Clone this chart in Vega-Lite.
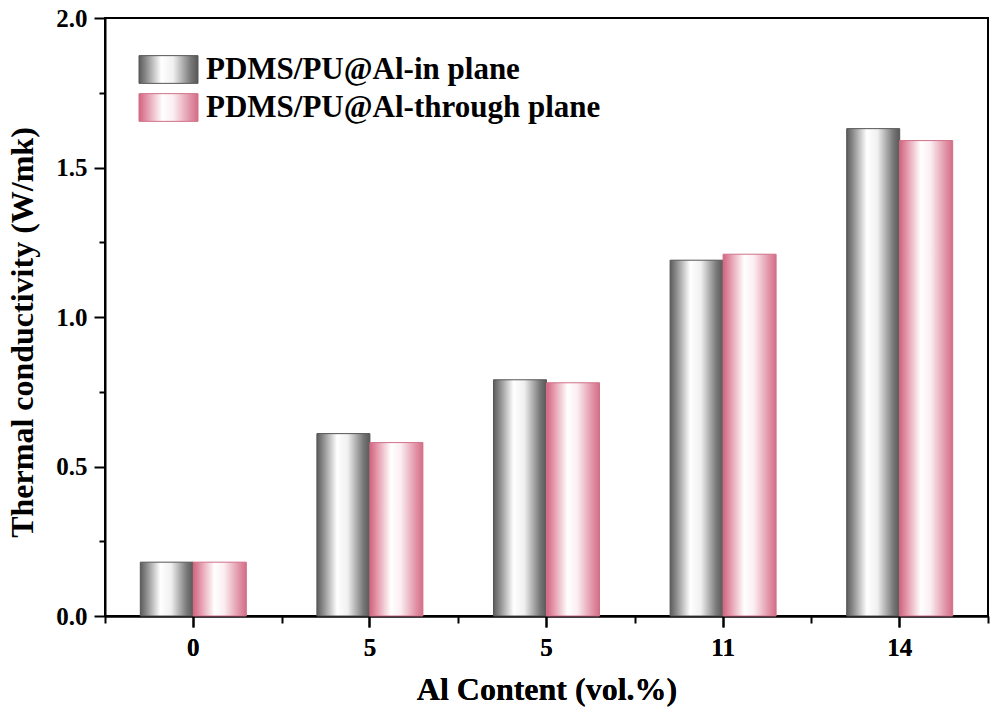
{
  "$schema": "https://vega.github.io/schema/vega-lite/v6.json",
  "width": 883,
  "height": 598,
  "autosize": {"type": "none"},
  "padding": {"left": 105, "top": 18, "right": 13, "bottom": 100},
  "background": "white",
  "config": {
    "view": {"stroke": "black", "strokeWidth": 2},
    "font": "Liberation Serif",
    "axis": {
      "domainColor": "black", "domainWidth": 2, "tickColor": "black", "tickWidth": 2,
      "labelFont": "Liberation Serif", "labelFontWeight": "bold", "labelFontSize": 25, "labelColor": "black",
      "titleFont": "Liberation Serif", "titleFontWeight": "bold", "titleFontSize": 32, "titleColor": "black",
      "grid": false
    },
    "legend": {
      "labelFont": "Liberation Serif", "labelFontWeight": "bold", "labelFontSize": 31,
      "labelColor": "black", "labelOffset": 22, "labelLimit": 600,
      "symbolType": "M-2,-0.94H2V0.94H-2Z", "symbolSize": 870, "symbolStrokeWidth": 1
    }
  },
  "data": {
    "values": [
      {"cat": "0", "series": "PDMS/PU@Al-in plane", "value": 0.18},
      {"cat": "0", "series": "PDMS/PU@Al-through plane", "value": 0.18},
      {"cat": "5a", "series": "PDMS/PU@Al-in plane", "value": 0.61},
      {"cat": "5a", "series": "PDMS/PU@Al-through plane", "value": 0.58},
      {"cat": "5b", "series": "PDMS/PU@Al-in plane", "value": 0.79},
      {"cat": "5b", "series": "PDMS/PU@Al-through plane", "value": 0.78},
      {"cat": "11", "series": "PDMS/PU@Al-in plane", "value": 1.19},
      {"cat": "11", "series": "PDMS/PU@Al-through plane", "value": 1.21},
      {"cat": "14", "series": "PDMS/PU@Al-in plane", "value": 1.63},
      {"cat": "14", "series": "PDMS/PU@Al-through plane", "value": 1.59}
    ]
  },
  "encoding": {
    "x": {
      "field": "cat", "type": "nominal", "sort": ["0", "5a", "5b", "11", "14"],
      "scale": {"paddingInner": 0, "paddingOuter": 0},
      "axis": {
        "orient": "bottom",
        "title": "Al Content (vol.%)", "labelAngle": 0, "tickSize": 11, "labelPadding": 8,
        "titlePadding": 14,
        "labelExpr": "replace(datum.label, /[ab]/, '')"
      }
    },
    "xOffset": {
      "field": "series", "type": "nominal",
      "sort": ["PDMS/PU@Al-in plane", "PDMS/PU@Al-through plane"],
      "scale": {"domain": ["PDMS/PU@Al-in plane", "PDMS/PU@Al-through plane"], "paddingInner": 0, "paddingOuter": 0.666}
    },
    "y": {
      "field": "value", "type": "quantitative",
      "scale": {"domain": [0, 2], "nice": false},
      "axis": {
        "title": "Thermal conductivity (W/mk)",
        "values": [0, 0.25, 0.5, 0.75, 1, 1.25, 1.5, 1.75, 2],
        "labelExpr": "datum.value % 0.5 === 0 ? format(datum.value, '.1f') : ''",
        "tickSize": {"condition": {"test": "datum.value % 0.5 === 0", "value": 11}, "value": 6},
        "labelPadding": 7,
        "titlePadding": 16,
        "titleY": 314
      }
    }
  },
  "layer": [
    {
      "transform": [{"filter": "datum.series === 'PDMS/PU@Al-in plane'"}],
      "mark": {
        "type": "bar", "strokeWidth": 1,
        "fill": {"gradient": "linear", "x1": 0, "y1": 0, "x2": 1, "y2": 0, "stops": [
          {"offset": 0, "color": "#5c5c5c"}, {"offset": 0.12, "color": "#8c8c8c"},
          {"offset": 0.38, "color": "#ffffff"}, {"offset": 0.58, "color": "#f0f0f0"},
          {"offset": 0.88, "color": "#777777"}, {"offset": 1, "color": "#585858"}]}
      },
      "encoding": {
        "stroke": {
          "field": "series", "type": "nominal",
          "scale": {"range": ["#555555"]},
          "legend": {"title": null, "orient": "none", "legendX": 48, "legendY": 36}
        }
      }
    },
    {
      "transform": [{"filter": "datum.series === 'PDMS/PU@Al-through plane'"}],
      "mark": {
        "type": "bar", "strokeWidth": 1,
        "fill": {"gradient": "linear", "x1": 0, "y1": 0, "x2": 1, "y2": 0, "stops": [
          {"offset": 0, "color": "#d2647f"}, {"offset": 0.12, "color": "#e291a5"},
          {"offset": 0.4, "color": "#ffffff"}, {"offset": 0.58, "color": "#fbeef2"},
          {"offset": 0.88, "color": "#e08ea2"}, {"offset": 1, "color": "#d26e88"}]}
      },
      "encoding": {
        "stroke": {
          "field": "series", "type": "nominal",
          "scale": {"range": ["#d07088"]},
          "legend": {"title": null, "orient": "none", "legendX": 48, "legendY": 74}
        }
      }
    },
    {
      "mark": {"type": "point", "opacity": 0},
      "encoding": {
        "x": {
          "field": "cat", "type": "nominal", "sort": ["0", "5a", "5b", "11", "14"],
          "axis": {"orient": "bottom", "title": null, "labels": false, "domain": false, "tickBand": "extent", "tickSize": 7}
        },
        "xOffset": null,
        "y": null
      }
    }
  ],
  "resolve": {
    "axis": {"x": "independent"},
    "scale": {"stroke": "independent"},
    "legend": {"stroke": "independent"}
  }
}
